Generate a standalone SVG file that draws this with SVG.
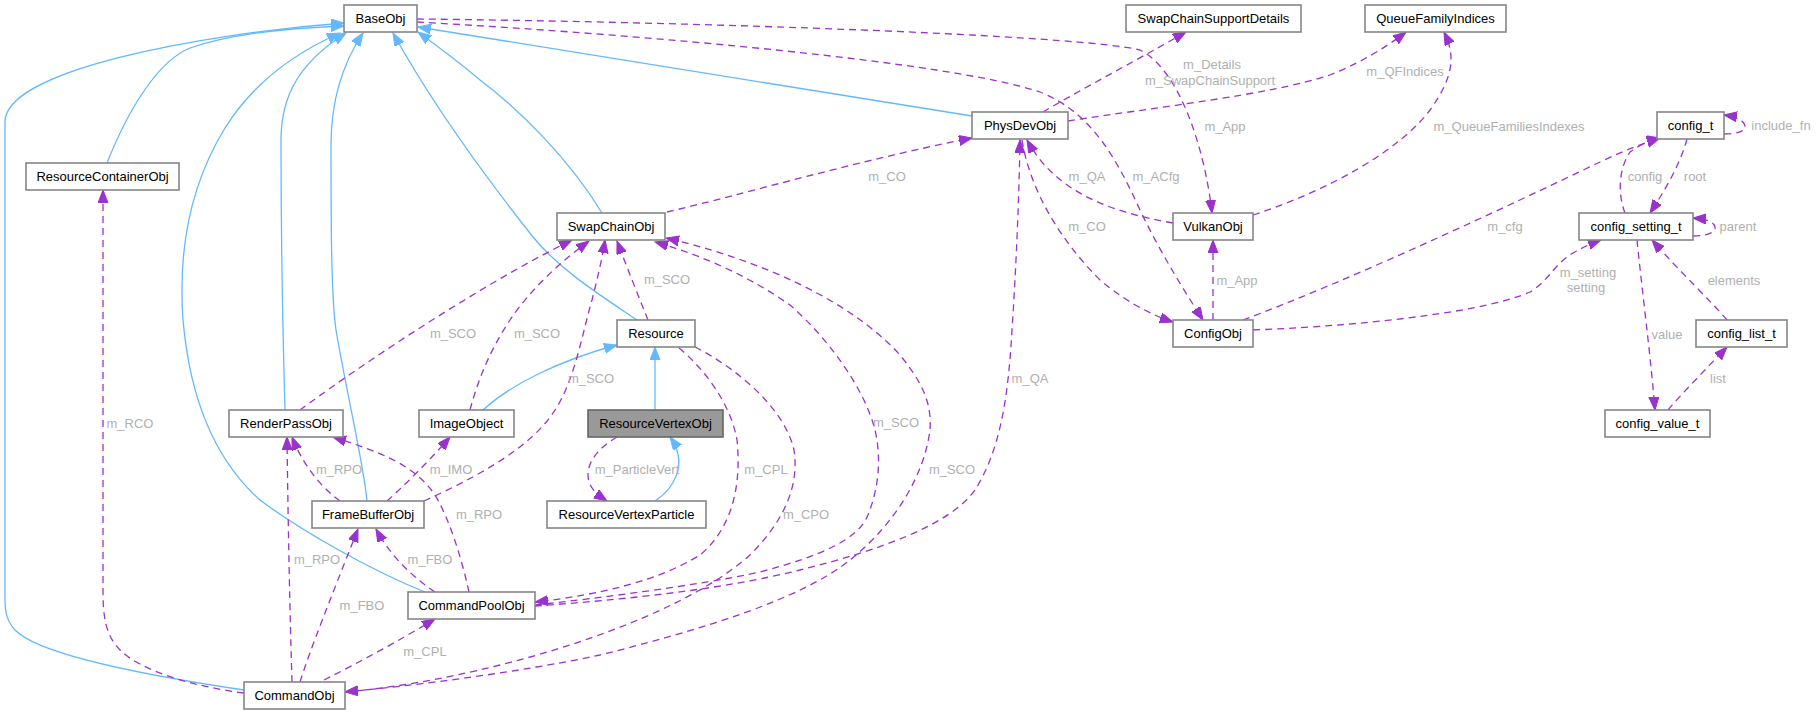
<svg xmlns="http://www.w3.org/2000/svg" width="1817" height="715" viewBox="0 0 1817 715">
<style>
.n rect{fill:#fff;stroke:#868686;stroke-width:1.6}
.n text{font-family:"Liberation Sans",Arial,sans-serif;font-size:13px;fill:#000;text-anchor:middle}
.g rect{fill:#999999;stroke:#666;stroke-width:1.6}
.inh{fill:none;stroke:#63b8ff;stroke-width:1.3;marker-end:url(#ab)}
.use{fill:none;stroke:#9a32cd;stroke-width:1.3;stroke-dasharray:7,5;marker-end:url(#ap)}
.lb{font-family:"Liberation Sans",Arial,sans-serif;font-size:13px;fill:#b0b0b0;text-anchor:middle}
</style>
<defs>
<marker id="ab" markerUnits="userSpaceOnUse" markerWidth="16" markerHeight="12" refX="13" refY="5" orient="auto" viewBox="0 0 16 12"><path d="M0,0 L13,5 L0,10 Z" fill="#63b8ff" stroke="#63b8ff"/></marker>
<marker id="ap" markerUnits="userSpaceOnUse" markerWidth="16" markerHeight="12" refX="13" refY="5" orient="auto" viewBox="0 0 16 12"><path d="M0,0 L13,5 L0,10 Z" fill="#9a32cd" stroke="#9a32cd"/></marker>
</defs>
<rect width="1817" height="715" fill="#fff"/>
<g id="edges">
<path class="inh" d="M244,690 C150,676 40,656 15,630 C7,621 5,612 5,600 L5,122 C5,70 200,34 344,23"/>
<path class="inh" d="M107,163 C130,105 160,60 190,48 C230,34 290,28 344,26"/>
<path class="inh" d="M425,592 C370,570 300,530 260,500 C215,460 190,400 183,320 C178,250 190,185 225,128 C250,88 290,55 340,33"/>
<path class="inh" d="M285,410 C283,340 281,250 281,140 C281,95 300,62 346,33"/>
<path class="inh" d="M367,501 C364,465 345,385 336,330 C331,295 331,220 331,145 C331,95 345,60 363,33"/>
<path class="inh" d="M637,320 C600,295 560,270 533,237 C480,170 430,100 393,33"/>
<path class="inh" d="M602,213 C570,160 520,110 480,80 C460,63 440,48 418,32"/>
<path class="inh" d="M972,116 L418,27"/>
<path class="inh" d="M483,410 C510,385 560,360 617,345"/>
<path class="inh" d="M655,410 L655,347"/>
<path class="inh" d="M655,501 C672,490 690,465 670,437"/>

<path class="use" d="M417,19 C700,22 1080,35 1140,50 C1180,70 1205,150 1212,213"/>
<path class="use" d="M417,22 C650,35 950,62 1040,92 C1090,112 1115,155 1140,210 C1160,252 1185,292 1203,320"/>
<path class="use" d="M1043,112 C1080,90 1130,64 1186,32"/>
<path class="use" d="M1068,121 C1150,108 1270,95 1330,75 C1360,63 1385,48 1406,32"/>
<path class="use" d="M1253,215 C1330,190 1400,150 1430,110 C1455,75 1455,55 1444,32"/>
<path class="use" d="M1173,223 C1110,212 1055,192 1027,140"/>
<path class="use" d="M1022,140 C1030,190 1060,240 1100,280 C1130,305 1155,316 1173,322"/>
<path class="use" d="M1213,320 L1213,240"/>
<path class="use" d="M1243,320 C1350,280 1500,210 1600,162 C1625,150 1645,143 1660,138"/>
<path class="use" d="M1253,330 C1380,325 1490,310 1530,292 C1550,280 1555,262 1575,252 C1585,246 1593,243 1601,240"/>
<path class="use" d="M1724,134 C1738,134 1746,131 1745,126 C1744,121 1738,117 1724,115"/>
<path class="use" d="M1625,213 C1618,195 1618,170 1630,152 C1640,145 1650,140 1660,138"/>
<path class="use" d="M1687,139 C1680,165 1665,190 1650,213"/>
<path class="use" d="M1693,236 C1708,236 1716,232 1715,227 C1714,222 1706,219 1693,218"/>
<path class="use" d="M1637,240 C1642,290 1650,350 1655,410"/>
<path class="use" d="M1727,320 C1710,300 1680,272 1652,240"/>
<path class="use" d="M1668,410 C1685,390 1710,365 1727,347"/>
<path class="use" d="M244,693 C190,686 140,670 120,650 C105,635 103,615 103,590 L103,190"/>
<path class="use" d="M300,410 C340,380 470,290 572,240"/>
<path class="use" d="M470,410 C478,380 490,350 510,320 C530,290 560,262 589,241"/>
<path class="use" d="M424,501 C470,480 530,450 555,410 C575,380 583,330 592,300 C597,280 602,260 605,240"/>
<path class="use" d="M648,320 C640,300 628,270 617,241"/>
<path class="use" d="M667,212 C740,195 860,160 972,138"/>
<path class="use" d="M535,605 C600,598 700,585 760,572 C820,556 858,540 868,515 C878,490 882,460 875,430 C865,390 830,340 790,305 C740,270 690,252 655,242"/>
<path class="use" d="M345,692 C420,685 520,672 600,655 C700,630 800,600 850,560 C900,520 925,470 930,430 C932,400 920,380 900,355 C850,300 760,260 666,238"/>
<path class="use" d="M679,348 C700,365 730,400 737,440 C742,490 730,530 700,555 C660,580 600,595 535,602"/>
<path class="use" d="M695,347 C740,370 785,410 794,450 C800,490 780,525 750,555 C700,600 600,640 500,665 C440,680 390,688 345,692"/>
<path class="use" d="M535,606 C620,600 720,590 800,570 C880,550 950,525 975,490 C1000,450 1008,400 1012,330 C1016,270 1019,200 1020,140"/>
<path class="use" d="M300,682 C310,650 330,600 358,529"/>
<path class="use" d="M292,682 C290,620 288,520 287,437"/>
<path class="use" d="M324,680 C360,662 400,640 435,619"/>
<path class="use" d="M340,501 C325,490 305,470 292,437"/>
<path class="use" d="M387,501 C405,485 430,460 450,437"/>
<path class="use" d="M469,592 C462,560 450,520 435,495 C415,465 380,452 333,437"/>
<path class="use" d="M435,592 C410,575 390,555 376,529"/>
<path class="use" d="M617,437 C600,447 588,460 588,475 C588,488 598,495 607,501"/>
</g>
<g id="labels">
<text class="lb" x="1225" y="130.5">m_App</text>
<text class="lb" x="1156" y="180.5">m_ACfg</text>
<text class="lb" x="1212" y="68.5">m_Details</text>
<text class="lb" x="1210" y="84.5">m_SwapChainSupport</text>
<text class="lb" x="1405" y="76">m_QFIndices</text>
<text class="lb" x="1509" y="130.5">m_QueueFamiliesIndexes</text>
<text class="lb" x="1087" y="180.5">m_QA</text>
<text class="lb" x="1087" y="231">m_CO</text>
<text class="lb" x="1237" y="284.5">m_App</text>
<text class="lb" x="1505" y="231">m_cfg</text>
<text class="lb" x="1588" y="276.5">m_setting</text>
<text class="lb" x="1586" y="292">setting</text>
<text class="lb" x="1781" y="130">include_fn</text>
<text class="lb" x="1645" y="180.5">config</text>
<text class="lb" x="1695" y="180.5">root</text>
<text class="lb" x="1738" y="231">parent</text>
<text class="lb" x="1667" y="338.5">value</text>
<text class="lb" x="1734" y="284.5">elements</text>
<text class="lb" x="1718" y="383">list</text>
<text class="lb" x="130" y="428">m_RCO</text>
<text class="lb" x="453" y="338">m_SCO</text>
<text class="lb" x="537" y="338">m_SCO</text>
<text class="lb" x="591" y="383">m_SCO</text>
<text class="lb" x="667" y="284">m_SCO</text>
<text class="lb" x="887" y="180.5">m_CO</text>
<text class="lb" x="339" y="474">m_RPO</text>
<text class="lb" x="451" y="474">m_IMO</text>
<text class="lb" x="637" y="474">m_ParticleVert</text>
<text class="lb" x="479" y="519">m_RPO</text>
<text class="lb" x="317" y="564">m_RPO</text>
<text class="lb" x="430" y="564">m_FBO</text>
<text class="lb" x="362" y="609.5">m_FBO</text>
<text class="lb" x="425" y="655.5">m_CPL</text>
<text class="lb" x="766" y="474">m_CPL</text>
<text class="lb" x="806" y="519">m_CPO</text>
<text class="lb" x="896" y="427">m_SCO</text>
<text class="lb" x="952" y="474">m_SCO</text>
<text class="lb" x="1030" y="383">m_QA</text>
</g>
<g id="BaseObj" class="n"><rect x="344" y="5" width="73" height="27"/><text x="380.5" y="23">BaseObj</text></g>
<g id="SwapChainSupportDetails" class="n"><rect x="1126" y="5" width="175" height="27"/><text x="1213.5" y="23">SwapChainSupportDetails</text></g>
<g id="QueueFamilyIndices" class="n"><rect x="1365" y="5" width="141" height="27"/><text x="1435.5" y="23">QueueFamilyIndices</text></g>
<g id="ResourceContainerObj" class="n"><rect x="26" y="163" width="153" height="27"/><text x="102.5" y="181">ResourceContainerObj</text></g>
<g id="PhysDevObj" class="n"><rect x="972" y="112" width="96" height="27"/><text x="1020" y="130">PhysDevObj</text></g>
<g id="config_t" class="n"><rect x="1657" y="112" width="67" height="27"/><text x="1690.5" y="130">config_t</text></g>
<g id="SwapChainObj" class="n"><rect x="557" y="213" width="108" height="27"/><text x="611" y="231">SwapChainObj</text></g>
<g id="VulkanObj" class="n"><rect x="1173" y="213" width="80" height="27"/><text x="1213" y="231">VulkanObj</text></g>
<g id="config_setting_t" class="n"><rect x="1579" y="213" width="114" height="27"/><text x="1636" y="231">config_setting_t</text></g>
<g id="Resource" class="n"><rect x="617" y="320" width="78" height="27"/><text x="656" y="338">Resource</text></g>
<g id="ConfigObj" class="n"><rect x="1173" y="320" width="80" height="27"/><text x="1213" y="338">ConfigObj</text></g>
<g id="config_list_t" class="n"><rect x="1696" y="320" width="91" height="27"/><text x="1741.5" y="338">config_list_t</text></g>
<g id="RenderPassObj" class="n"><rect x="229" y="410" width="114" height="27"/><text x="286" y="428">RenderPassObj</text></g>
<g id="ImageObject" class="n"><rect x="419" y="410" width="95" height="27"/><text x="466.5" y="428">ImageObject</text></g>
<g id="ResourceVertexObj" class="n g"><rect x="588" y="410" width="135" height="27"/><text x="655.5" y="428">ResourceVertexObj</text></g>
<g id="config_value_t" class="n"><rect x="1605" y="410" width="105" height="27"/><text x="1657.5" y="428">config_value_t</text></g>
<g id="FrameBufferObj" class="n"><rect x="312" y="501" width="112" height="27"/><text x="368" y="519">FrameBufferObj</text></g>
<g id="ResourceVertexParticle" class="n"><rect x="547" y="501" width="159" height="27"/><text x="626.5" y="519">ResourceVertexParticle</text></g>
<g id="CommandPoolObj" class="n"><rect x="408" y="592" width="127" height="27"/><text x="471.5" y="610">CommandPoolObj</text></g>
<g id="CommandObj" class="n"><rect x="244" y="682" width="101" height="27"/><text x="294.5" y="700">CommandObj</text></g>
</svg>
